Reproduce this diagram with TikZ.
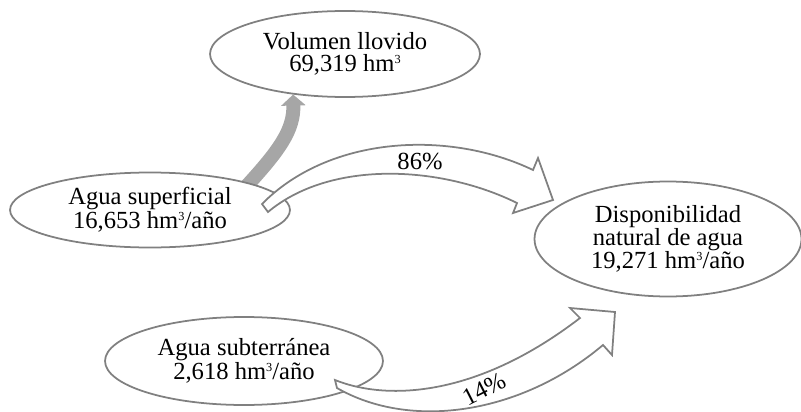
\documentclass[tikz,border=0pt]{standalone}
\usepackage{fontspec}
\setmainfont{Liberation Serif}
\usepackage{tikz}
\usetikzlibrary{arrows.meta,calc,shapes.geometric,backgrounds}
\definecolor{edgegray}{RGB}{128,128,128}
\definecolor{raingray}{RGB}{166,166,166}
\newcommand{\cubic}{\raisebox{4.6pt}{\fontsize{7}{7}\selectfont 3}}
\tikzset{
  bubble/.style={ellipse,draw=edgegray,line width=1pt,fill=white,align=center,inner sep=0pt,
    font=\fontsize{14}{12.5}\selectfont},
  blockarrow/.style={draw=edgegray,line width=1pt,fill=white,line join=miter},
  pct/.style={font=\fontsize{14}{12}\selectfont,inner sep=1pt}
}
\begin{document}
\begin{tikzpicture}[x=0.02cm,y=-0.02cm]
    \useasboundingbox (0,0) rectangle (801,412);
    \node[bubble,minimum width=5.4cm,minimum height=1.72cm] (llo) at (345,54) {Volumen llovido\\69,319 hm\cubic};
    \node[bubble,minimum width=5.6cm,minimum height=1.5cm,font=\fontsize{14}{11.5}\selectfont] (sup) at (150,210) {Agua superficial\\16,653 hm\cubic/año};
    \node[bubble,minimum width=5.34cm,minimum height=2.3cm,font=\fontsize{14}{13}\selectfont] (disp) at (668,239) {Disponibilidad\\natural de agua\\19,271 hm\cubic/año};
    \node[bubble,minimum width=5.56cm,minimum height=1.76cm] (sub) at (244,361) {Agua subterránea\\2,618 hm\cubic/año};
    % lluvia
    \begin{scope}[on background layer]
        \draw[raingray,line width=0.28cm,shorten <=-0.2cm,-{Triangle[width=0.48cm,length=0.22cm]}]
            (sup.north east) .. controls (280,150) and (294,130) .. (llo.218);
    \end{scope}
    % 86%
    \draw[blockarrow] (262,204) .. controls (330,135) and (450,130) .. (533,170) -- (538,158) -- (553,200)
        -- (513,213) -- (517,203) .. controls (440,165) and (330,160) .. (268,212) -- cycle;
    \node[pct] (p86) at (420,161) {86\%};
    % 14%
    \draw[blockarrow] (335,380) .. controls (390,402) and (480,395) .. (580,318) -- (570,308) -- (615,312)
        -- (612,355) -- (603,345) .. controls (520,415) and (410,430) .. (337,388) -- cycle;
    \node[pct,rotate=27] (p14) at (484,389) {14\%};
\end{tikzpicture}
\end{document}
